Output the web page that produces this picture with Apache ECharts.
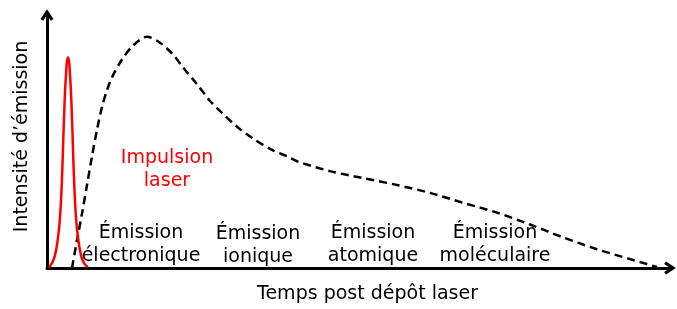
<!DOCTYPE html>
<html>
<head>
<meta charset="utf-8">
<script src="https://cdn.jsdelivr.net/npm/echarts@6/dist/echarts.min.js"></script>
<style>
  html, body { margin: 0; padding: 0; background: #fff; }
  #chart { width: 677px; height: 309px; }
</style>
</head>
<body>
<div id="chart"></div>
<script>
// x = temps (px depuis l'axe), y = intensite
var pulseX = [2, 5, 8, 11, 13, 15, 17, 19, 21, 23, 25, 27, 29, 31, 34, 37, 41];
var pulseY = [1, 5, 13, 31, 51, 91, 151, 196, 213, 196, 151, 91, 51, 31, 13, 5, 1];

var emisX = [25, 30, 35, 40, 45, 50, 55, 60, 65, 75, 86, 100, 113, 126, 136, 150, 163, 176, 190, 206, 226, 240, 250, 283, 316, 350, 383, 416, 450, 483, 516, 550, 583, 610];
var emisY = [0, 28, 55, 84, 113, 140, 163, 180, 193, 211, 225, 234, 228, 216, 203, 186, 169, 156, 143, 131, 119, 113, 108, 98, 91, 84, 76, 66, 56, 44, 31, 19, 9, 1];

var labelNames = ['Impulsion\nlaser', 'Émission\nélectronique', 'Émission\nionique', 'Émission\natomique', 'Émission\nmoléculaire'];
var labelX = [120, 94, 211, 326, 448];
var labelY = [100, 24, 23, 24, 24];

function pairs(xs, ys) {
    var out = [];
    for (var i = 0; i < xs.length; i++) {
        out.push([xs[i], ys[i]]);
    }
    return out;
}

var labelData = [];
for (var i = 0; i < labelNames.length; i++) {
    labelData.push({
        name: labelNames[i],
        value: [labelX[i], labelY[i]],
        label: { color: i === 0 ? '#ff0000' : '#000000' }
    });
}

var arrow = 'path://M0,9 L6,0 L12,9 L9.6,10.8 L6,5.4 L2.4,10.8 Z';
var font = 'DejaVu Sans';

var myChart = echarts.init(document.getElementById('chart'));
var option = {
    animation: false,
    grid: {
        left: 47,
        right: 7,
        top: 15,
        bottom: 38
    },
    xAxis: {
        type: 'value',
        min: 0,
        max: 623,
        name: 'Temps post dépôt laser',
        nameLocation: 'middle',
        nameGap: 17,
        nameTextStyle: {
            color: '#000',
            fontFamily: font,
            fontSize: 19,
            padding: [0, 0, 0, 18]
        },
        axisLine: {
            show: true,
            symbol: ['none', arrow],
            symbolSize: [13, 12],
            lineStyle: { color: '#000', width: 3 }
        },
        axisTick: { show: false },
        axisLabel: { show: false },
        splitLine: { show: false }
    },
    yAxis: {
        type: 'value',
        min: 0,
        max: 256,
        name: 'Intensité d’émission',
        nameLocation: 'middle',
        nameGap: 15,
        nameRotate: 90,
        nameTextStyle: {
            color: '#000',
            fontFamily: font,
            fontSize: 19,
            padding: [0, 0, 0, 10]
        },
        axisLine: {
            show: true,
            symbol: ['none', arrow],
            symbolSize: [13, 12],
            lineStyle: { color: '#000', width: 3 }
        },
        axisTick: { show: false },
        axisLabel: { show: false },
        splitLine: { show: false }
    },
    series: [
        {
            name: 'Impulsion laser',
            type: 'line',
            smooth: true,
            showSymbol: false,
            z: 3,
            lineStyle: { color: '#ff0000', width: 2.5 },
            data: pairs(pulseX, pulseY)
        },
        {
            name: 'Émission',
            type: 'line',
            smooth: 0.3,
            showSymbol: false,
            z: 2,
            lineStyle: { color: '#000', width: 2.5, type: [8, 5] },
            data: pairs(emisX, emisY)
        },
        {
            name: 'labels',
            type: 'scatter',
            symbolSize: 0,
            silent: true,
            itemStyle: { opacity: 1 },
            label: {
                show: true,
                position: 'inside',
                formatter: '{b}',
                fontFamily: font,
                fontSize: 19,
                lineHeight: 23,
                align: 'center',
                opacity: 1,
                textBorderWidth: 0
            },
            data: labelData
        }
    ]
};
myChart.setOption(option);
</script>
</body>
</html>
